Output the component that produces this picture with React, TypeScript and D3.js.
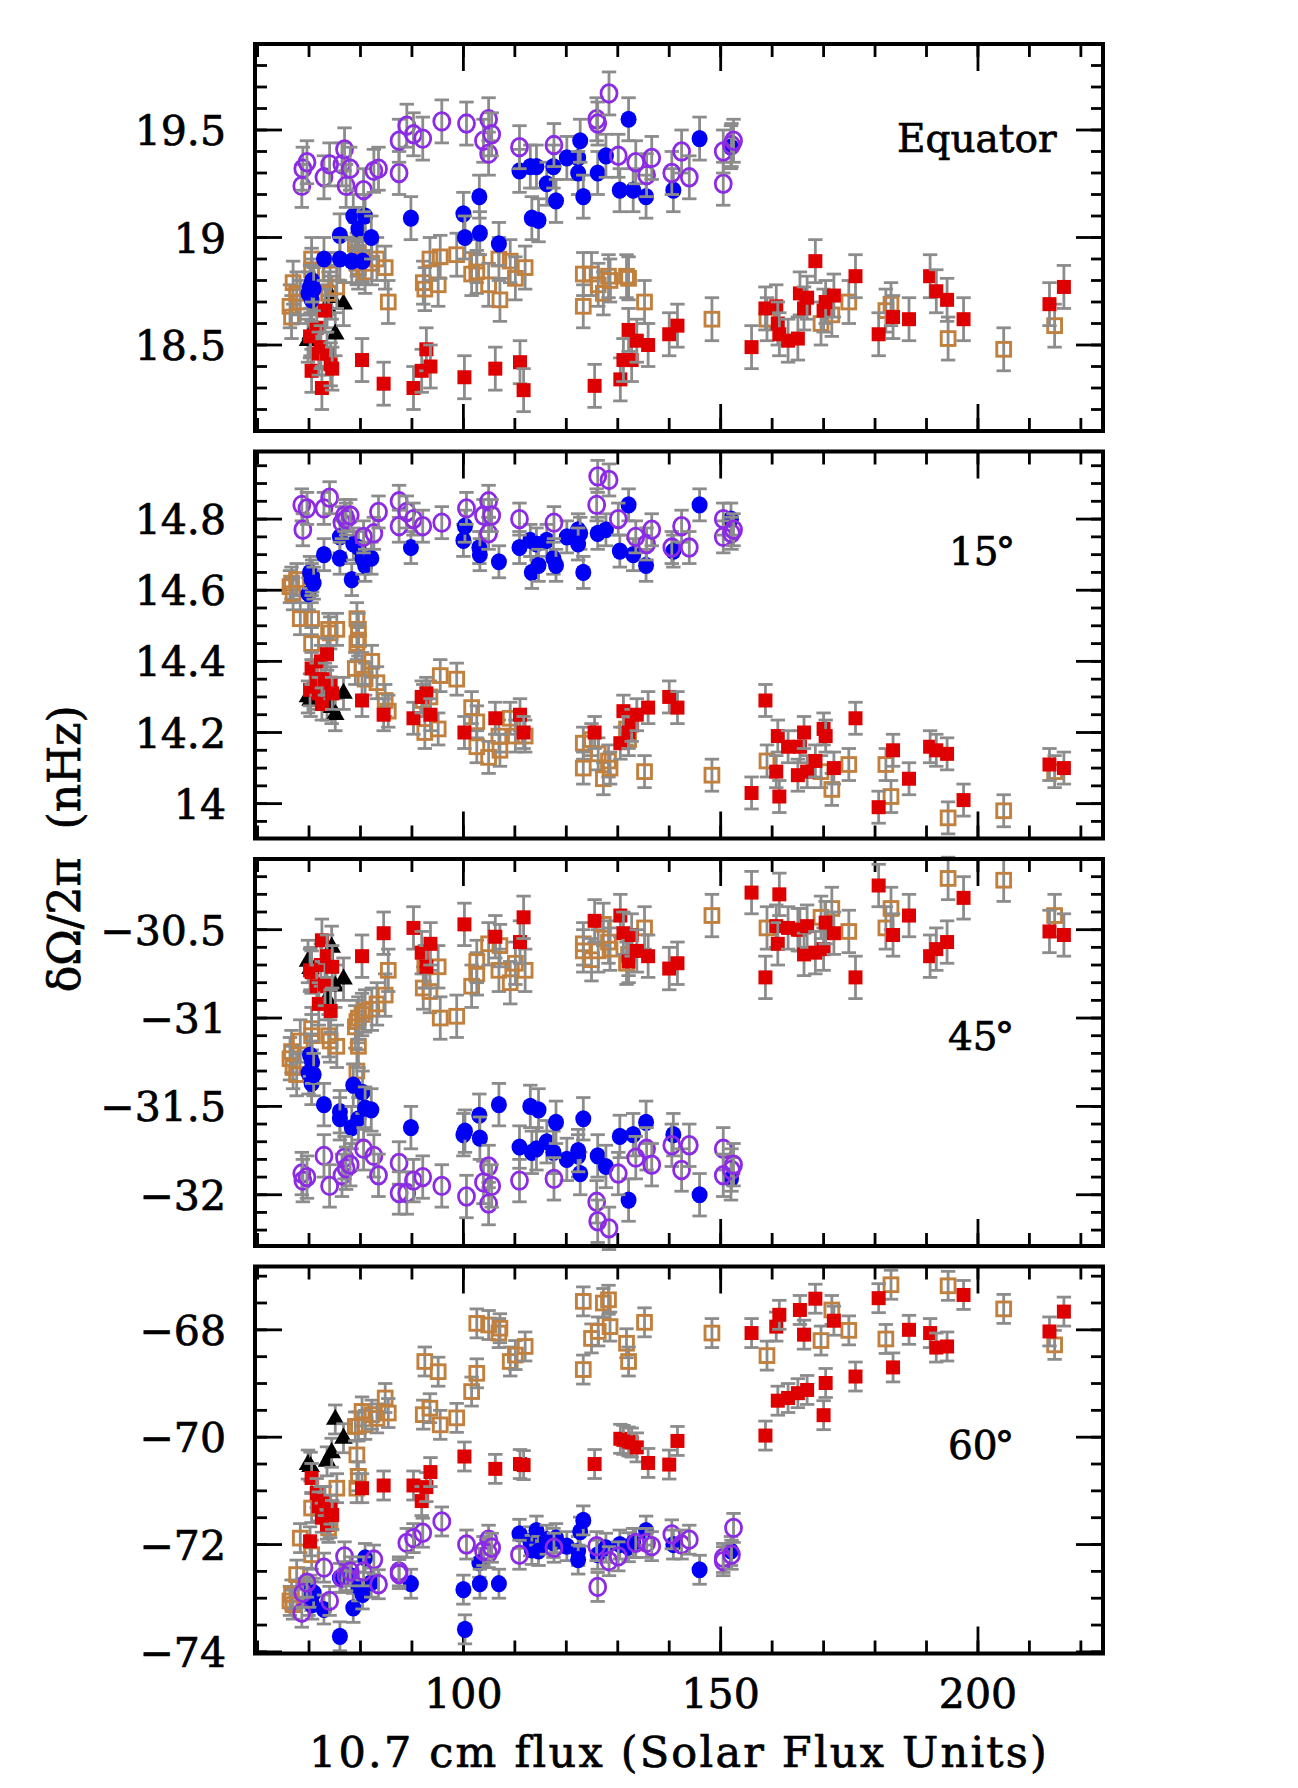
import { useEffect } from "react"
import * as d3 from "d3"

// 10.7 cm flux of every point, one list per data set (same flux in all four latitude panels)
const triX = [69.8, 70.3, 73.5, 74.4, 75.1, 76.7]
const tanX = [
  66.3, 66.6, 66.9, 67.6, 68.3, 70.5, 70.5, 73.8, 74.1, 75.4, 79.0, 79.3, 79.3, 79.6, 79.6, 80.3, 80.9, 82.2, 83.2,
  84.8, 85.4, 92.2, 92.5, 93.5, 95.1, 95.5, 98.7, 101.6, 102.6, 102.6, 104.9, 106.9, 107.1, 109.1, 110.1, 112.0,
  123.3, 123.3, 124.9, 126.2, 127.2, 128.2, 128.5, 131.7, 132.1, 135.2, 148.3, 159.0, 169.5, 171.6, 174.9, 182.1,
  183.1, 194.2, 205.0, 214.9,
]
const redX = [
  70.2, 70.5, 71.5, 71.9, 72.3, 72.5, 73.1, 73.5, 74.2, 74.5, 80.3, 84.5, 90.3, 91.9, 92.8, 93.6, 100.2, 106.2,
  111.0, 111.7, 125.5, 130.5, 131.1, 132.1, 132.7, 133.7, 135.9, 140.0, 141.6, 156.0, 158.7, 160.8, 161.1, 161.4,
  163.1, 165.0, 165.4, 166.2, 166.8, 168.4, 170.0, 170.4, 172.0, 176.2, 180.7, 183.5, 186.6, 190.7, 191.9, 194.0,
  197.2, 213.9, 216.7,
]
const blueX = [
  69.9, 70.2, 70.5, 70.6, 70.9, 72.9, 76.0, 76.0, 78.3, 78.6, 79.6, 80.4, 80.9, 82.1, 89.8, 100.0, 100.3, 103.1,
  103.2, 106.9, 110.9, 113.0, 113.3, 114.2, 114.6, 116.2, 117.5, 118.0, 120.1, 122.3, 122.7, 122.3, 123.3, 126.1,
  127.7, 130.4, 132.1, 133.0, 135.5, 140.8, 145.9, 152.0,
]
const purpleX = [
  68.6, 68.8, 69.6, 72.9, 74.0, 76.4, 76.9, 77.2, 78.0, 80.6, 82.6, 83.5, 87.5, 87.5, 89.0, 90.3, 92.1, 95.8, 100.6,
  103.9, 104.9, 104.9, 105.5, 110.9, 117.6, 125.9, 126.1, 128.3, 130.1, 133.5, 135.6, 136.6, 140.5, 142.4, 143.9,
  150.5, 150.5, 152.1, 152.5,
]

// δΩ/2π (nHz) — equator
const triEq = [18.52, 18.55, 18.68, 18.72, 18.55, 18.69]
const tanEq = [
  18.68, 18.63, 18.79, 18.74, 18.7, 18.9, 18.85, 18.74, 18.83, 18.77, 18.97, 18.92, 18.88, 18.93, 18.86, 18.9, 18.84,
  18.88, 18.9, 18.86, 18.7, 18.79, 18.76, 18.9, 18.78, 18.91, 18.92, 18.83, 18.89, 18.84, 18.78, 18.9, 18.71, 18.89,
  18.81, 18.86, 18.83, 18.68, 18.83, 18.78, 18.74, 18.82, 18.8, 18.82, 18.81, 18.7, 18.62, 18.62, 18.6, 18.64, 18.7,
  18.66, 18.69, 18.53, 18.48, 18.59,
]
const redEq = [
  18.54, 18.38, 18.58, 18.46, 18.49, 18.3, 18.66, 18.46, 18.41, 18.39, 18.43, 18.32, 18.3, 18.38, 18.48, 18.4, 18.35,
  18.39, 18.42, 18.29, 18.31, 18.34, 18.43, 18.57, 18.43, 18.52, 18.5, 18.55, 18.59, 18.49, 18.67, 18.68, 18.6,
  18.55, 18.52, 18.53, 18.74, 18.67, 18.72, 18.89, 18.66, 18.7, 18.73, 18.82, 18.55, 18.63, 18.62, 18.82, 18.75,
  18.71, 18.62, 18.69, 18.77,
]
const blueEq = [
  18.74, 18.77, 18.71, 18.8, 18.76, 18.9, 19.01, 18.9, 18.89, 19.1, 19.04, 18.89, 19.1, 19.0, 19.09, 19.11, 19.0,
  19.19, 19.02, 18.97, 19.31, 19.33, 19.09, 19.33, 19.08, 19.25, 19.33, 19.17, 19.37, 19.37, 19.45, 19.3, 19.19,
  19.3, 19.38, 19.22, 19.55, 19.22, 19.19, 19.22, 19.46, 19.42,
]
const purpleEq = [
  19.24, 19.32, 19.35, 19.28, 19.34, 19.34, 19.41, 19.24, 19.32, 19.22, 19.31, 19.32, 19.3, 19.45, 19.52, 19.48,
  19.46, 19.54, 19.53, 19.45, 19.55, 19.39, 19.48, 19.42, 19.43, 19.55, 19.53, 19.67, 19.38, 19.35, 19.29, 19.37,
  19.3, 19.4, 19.28, 19.25, 19.4, 19.43, 19.45,
]

// 15°
const tri15 = [14.3, 14.29, 14.28, 14.27, 14.25, 14.31]
const tan15 = [
  14.61, 14.62, 14.59, 14.63, 14.52, 14.52, 14.45, 14.49, 14.48, 14.49, 14.38, 14.52, 14.45, 14.49, 14.46, 14.38,
  14.35, 14.4, 14.34, 14.29, 14.26, 14.29, 14.2, 14.3, 14.21, 14.36, 14.35, 14.27, 14.23, 14.16, 14.13, 14.19, 14.15,
  14.24, 14.19, 14.19, 14.17, 14.1, 14.18, 14.14, 14.07, 14.12, 14.1, 14.21, 14.18, 14.09, 14.08, 14.12, 14.09, 14.04,
  14.11, 14.11, 14.02, 13.96, 13.98, 14.09,
]
const red15 = [
  14.32, 14.38, 14.35, 14.31, 14.4, 14.28, 14.35, 14.42, 14.34, 14.31, 14.29, 14.25, 14.24, 14.3, 14.31, 14.25, 14.2,
  14.24, 14.25, 14.2, 14.2, 14.17, 14.26, 14.2, 14.22, 14.25, 14.27, 14.3, 14.27, 14.03, 14.29, 14.09, 14.19, 14.02,
  14.16, 14.08, 14.16, 14.2, 14.09, 14.12, 14.21, 14.19, 14.1, 14.24, 13.99, 14.15, 14.07, 14.16, 14.15, 14.14, 14.01,
  14.11, 14.1,
]
const blue15 = [
  14.59, 14.65, 14.63, 14.64, 14.62, 14.7, 14.75, 14.69, 14.63, 14.73, 14.72, 14.69, 14.67, 14.69, 14.72, 14.74,
  14.78, 14.72, 14.7, 14.68, 14.72, 14.74, 14.65, 14.73, 14.67, 14.74, 14.69, 14.67, 14.75, 14.77, 14.76, 14.73,
  14.65, 14.76, 14.77, 14.71, 14.84, 14.7, 14.67, 14.71, 14.84, 14.8,
]
const purple15 = [
  14.84, 14.77, 14.83, 14.83, 14.86, 14.79, 14.81, 14.8, 14.81, 14.75, 14.76, 14.82, 14.85, 14.78, 14.82, 14.8,
  14.78, 14.79, 14.83, 14.81, 14.85, 14.76, 14.81, 14.8, 14.79, 14.84, 14.92, 14.91, 14.8, 14.75, 14.73, 14.77,
  14.72, 14.78, 14.72, 14.75, 14.8, 14.76, 14.77,
]

// 45°
const tri45 = [-30.68, -30.72, -30.89, -30.6, -30.82, -30.78]
const tan45 = [
  -31.23, -31.19, -31.28, -31.32, -31.13, -31.06, -31.1, -31.1, -31.13, -31.16, -31.05, -31.02, -31.3, -31.16, -31.0,
  -30.98, -30.96, -30.95, -30.92, -30.87, -30.73, -30.83, -30.71, -30.85, -30.71, -31.0, -30.99, -30.82, -30.75,
  -30.68, -30.58, -30.73, -30.59, -30.8, -30.69, -30.73, -30.58, -30.62, -30.67, -30.62, -30.47, -30.57, -30.61,
  -30.69, -30.64, -30.49, -30.42, -30.49, -30.43, -30.38, -30.51, -30.49, -30.38, -30.21, -30.22, -30.42,
]
const red45 = [
  -30.73, -30.74, -30.82, -30.92, -30.7, -30.56, -30.81, -30.65, -30.96, -30.71, -30.65, -30.52, -30.49, -30.63,
  -30.71, -30.58, -30.47, -30.54, -30.57, -30.43, -30.45, -30.42, -30.52, -30.68, -30.53, -30.62, -30.65, -30.72,
  -30.69, -30.29, -30.77, -30.48, -30.58, -30.3, -30.49, -30.5, -30.5, -30.64, -30.48, -30.63, -30.61, -30.46,
  -30.52, -30.77, -30.25, -30.53, -30.42, -30.65, -30.61, -30.57, -30.32, -30.51, -30.53,
]
const blue45 = [
  -31.31, -31.21, -31.37, -31.25, -31.32, -31.49, -31.53, -31.57, -31.62, -31.38, -31.57, -31.42, -31.51, -31.52,
  -31.62, -31.66, -31.64, -31.55, -31.68, -31.49, -31.73, -31.5, -31.76, -31.74, -31.52, -31.7, -31.76, -31.59,
  -31.8, -31.78, -31.88, -31.75, -31.57, -31.78, -31.84, -31.67, -32.03, -31.66, -31.59, -31.66, -32.0, -31.91,
]
const purple45 = [
  -31.88, -31.92, -31.9, -31.78, -31.95, -31.89, -31.79, -31.85, -31.83, -31.74, -31.78, -31.89, -31.82, -31.99,
  -31.99, -31.92, -31.9, -31.95, -32.01, -31.93, -31.84, -32.05, -31.95, -31.92, -31.91, -32.04, -32.15, -32.19,
  -31.88, -31.79, -31.74, -31.83, -31.72, -31.86, -31.72, -31.74, -31.89, -31.86, -31.83,
]

// 60°
const tri60 = [-70.51, -70.55, -70.45, -70.29, -69.67, -70.02]
const tan60 = [
  -73.05, -72.93, -73.12, -72.56, -71.88, -71.32, -72.19, -71.69, -71.6, -70.95, -69.8, -70.33, -70.95, -70.73,
  -69.8, -69.52, -69.77, -69.58, -69.65, -69.27, -69.55, -69.58, -68.59, -69.46, -68.78, -69.77, -69.64, -69.15,
  -68.81, -67.88, -67.91, -68.06, -67.97, -68.59, -68.47, -68.31, -67.47, -68.74, -68.16, -68.03, -67.5, -67.44,
  -67.94, -68.25, -68.59, -67.86, -68.06, -68.48, -68.2, -67.63, -68.01, -68.17, -67.16, -67.18, -67.61, -68.28,
]
const red60 = [
  -71.94, -70.76, -71.04, -71.29, -71.19, -71.5, -71.19, -71.63, -71.35, -71.45, -70.95, -70.9, -70.9, -71.19,
  -70.93, -70.65, -70.36, -70.59, -70.5, -70.52, -70.5, -70.03, -70.05, -70.08, -70.1, -70.19, -70.48, -70.51,
  -70.07, -68.06, -69.97, -67.94, -69.32, -67.72, -69.27, -69.18, -67.63, -68.09, -69.12, -67.42, -69.59, -68.99,
  -67.83, -68.87, -67.41, -68.7, -68.0, -68.06, -68.33, -68.31, -67.35, -68.03, -67.66,
]
const blue60 = [
  -73.05, -72.84, -72.96, -73.12, -72.9, -73.21, -73.71, -72.62, -72.59, -73.18, -72.78, -72.93, -72.25, -72.71,
  -72.73, -72.84, -73.58, -72.34, -72.73, -72.73, -71.8, -71.94, -72.1, -71.74, -72.12, -71.91, -71.97, -71.88,
  -72.03, -72.12, -71.76, -72.28, -71.55, -72.19, -72.06, -72.0, -72.05, -71.97, -71.74, -72.0, -72.47, -72.12,
]
const purple60 = [
  -73.27, -72.9, -72.71, -72.43, -73.05, -72.62, -72.22, -72.59, -72.5, -72.5, -72.28, -72.74, -72.5, -72.55,
  -71.97, -71.88, -71.78, -71.57, -72.0, -72.12, -71.91, -72.16, -72.06, -72.19, -72.06, -72.03, -72.79, -72.31,
  -72.22, -71.97, -71.97, -72.03, -71.81, -72.0, -71.91, -72.25, -72.31, -72.19, -71.69,
]

// half length of the error bars in each panel (nHz)
const errHalf = [0.1, 0.045, 0.12, 0.27]

const panelNames = ["Equator", "15", "45", "60"]
const yTickLabels = [
  [18.5, 19, 19.5],
  [14, 14.2, 14.4, 14.6, 14.8],
  [-32, -31.5, -31, -30.5],
  [-74, -72, -70, -68],
]
const xTickLabels = [100, 150, 200]

// layout
const W = 1298
const H = 1788
const left = 255
const right = 1103
const top0 = 44
const step = 407.5
const ph = 387
const font = "'DejaVu Serif', serif"

const panels = [
  { domain: [18.1, 19.9], minor: 0.1, lx: 897, ly: 108, deg: false },
  { domain: [13.902, 14.99], minor: 0.05, lx: 949, ly: 113, deg: true },
  { domain: [-32.29, -30.1], minor: 0.1, lx: 948, ly: 191, deg: true },
  { domain: [-74.03, -66.82], minor: 0.5, lx: 948, ly: 192, deg: true },
]

const series = [
  { shape: "triangle", color: "#000000", x: triX, ys: [triEq, tri15, tri45, tri60] },
  { shape: "openSquare", color: "#c1803e", x: tanX, ys: [tanEq, tan15, tan45, tan60] },
  { shape: "square", color: "#de0000", x: redX, ys: [redEq, red15, red45, red60] },
  { shape: "circle", color: "#0000f5", x: blueX, ys: [blueEq, blue15, blue45, blue60] },
  { shape: "openCircle", color: "#8c2be6", x: purpleX, ys: [purpleEq, purple15, purple45, purple60] },
]

const x = d3.scaleLinear().domain([59.5, 224.3]).range([left, right])
const triPath = d3.symbol().type(d3.symbolTriangle).size(150)()

const fmt = (v: number) => String(v).replace("-", "\u2212")

// slightly heavier strokes on the text, like the plotting-package font of the original
const textStyle = { fontFamily: font, fill: "#000", stroke: "#000", strokeWidth: 0.7 }

function Marker({ shape, color, cx, cy }: { shape: string; color: string; cx: number; cy: number }) {
  if (shape === "circle") return <ellipse cx={cx} cy={cy} rx={8} ry={8.6} fill={color} />
  if (shape === "openCircle")
    return <ellipse cx={cx} cy={cy} rx={8} ry={8.8} fill="none" stroke={color} strokeWidth={2.8} />
  if (shape === "square") return <rect x={cx - 7} y={cy - 7} width={14} height={14} fill={color} />
  if (shape === "openSquare")
    return <rect x={cx - 6.9} y={cy - 6.9} width={13.8} height={13.8} fill="none" stroke={color} strokeWidth={2.9} />
  return <path d={triPath ?? ""} transform={`translate(${cx},${cy})`} fill={color} />
}

function Panel({ i }: { i: number }) {
  const p = panels[i]
  const top = top0 + i * step
  const y = d3.scaleLinear().domain(p.domain).range([top + ph, top])
  const minorY = d3
    .range(Math.ceil(p.domain[0] / p.minor - 1e-6), Math.floor(p.domain[1] / p.minor + 1e-6) + 1)
    .map((k) => k * p.minor)
  const minorX = d3.range(60, 225, 10)
  const err = errHalf[i]

  return (
    <g>
      {/* ticks, all inward */}
      {minorX.map((t) => (
        <g key={"x" + t} stroke="#000" strokeWidth={2.8}>
          <line x1={x(t)} x2={x(t)} y1={top} y2={top + 13} />
          <line x1={x(t)} x2={x(t)} y1={top + ph} y2={top + ph - 13} />
        </g>
      ))}
      {xTickLabels.map((t) => (
        <g key={"X" + t} stroke="#000" strokeWidth={2.8}>
          <line x1={x(t)} x2={x(t)} y1={top} y2={top + 27} />
          <line x1={x(t)} x2={x(t)} y1={top + ph} y2={top + ph - 27} />
        </g>
      ))}
      {minorY.map((t) => (
        <g key={"y" + t} stroke="#000" strokeWidth={2.8}>
          <line x1={left} x2={left + 12} y1={y(t)} y2={y(t)} />
          <line x1={right} x2={right - 12} y1={y(t)} y2={y(t)} />
        </g>
      ))}
      {yTickLabels[i].map((t) => (
        <g key={"Y" + t}>
          <line x1={left} x2={left + 27} y1={y(t)} y2={y(t)} stroke="#000" strokeWidth={2.8} />
          <line x1={right} x2={right - 27} y1={y(t)} y2={y(t)} stroke="#000" strokeWidth={2.8} />
          <text x={226} y={y(t) + 15} textAnchor="end" fontSize={41} style={textStyle}>
            {fmt(t)}
          </text>
        </g>
      ))}

      {/* data: gray error bars, then the marker */}
      {series.map((s, si) => (
        <g key={si}>
          {s.x.map((xv, k) => {
            const v = s.ys[i][k]
            const cx = x(xv)
            const y0 = y(v - err)
            const y1 = y(v + err)
            return (
              <g key={k}>
                <g stroke="#8c8c8c" strokeWidth={2.8}>
                  <line x1={cx} x2={cx} y1={y0} y2={y1} />
                  <line x1={cx - 7.2} x2={cx + 7.2} y1={y0} y2={y0} />
                  <line x1={cx - 7.2} x2={cx + 7.2} y1={y1} y2={y1} />
                </g>
                <Marker shape={s.shape} color={s.color} cx={cx} cy={y(v)} />
              </g>
            )
          })}
        </g>
      ))}

      <rect x={left} y={top} width={right - left} height={ph} fill="none" stroke="#000" strokeWidth={4} />
      <text x={p.lx} y={top + p.ly} fontSize={39} style={textStyle}>
        {panelNames[i]}
        {p.deg && <tspan dx={-3}>°</tspan>}
      </text>
    </g>
  )
}

export default function App() {
  useEffect(() => {
    document.body.style.margin = "0"
  }, [])

  return (
    <svg width={W} height={H} style={{ display: "block", background: "#fff" }}>
      <rect width={W} height={H} fill="#fff" />
      {panels.map((_, i) => (
        <Panel key={i} i={i} />
      ))}
      {xTickLabels.map((t) => (
        <text key={t} x={x(t)} y={1708} textAnchor="middle" fontSize={41} style={textStyle}>
          {t}
        </text>
      ))}
      <text
        x={(left + right) / 2}
        y={1767}
        textAnchor="middle"
        fontSize={43}
        letterSpacing={2.2}
        style={textStyle}
      >
        10.7 cm flux (Solar Flux Units)
      </text>
      <text
        transform={`translate(80,${top0 + (3 * step + ph) / 2}) rotate(-90)`}
        textAnchor="middle"
        fontSize={44}
        xmlSpace="preserve"
        style={textStyle}
      >
        δΩ/2π  (nHz)
      </text>
    </svg>
  )
}
